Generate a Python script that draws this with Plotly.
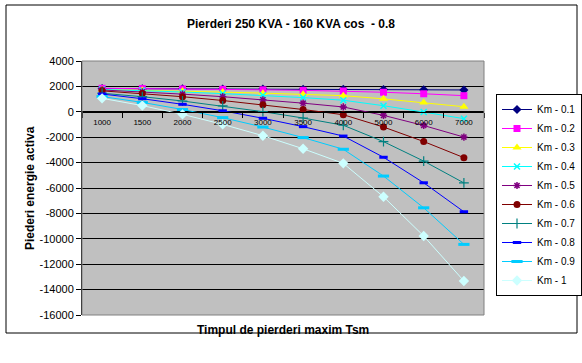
import plotly.graph_objects as go

categories = ["1000", "1500", "2000", "2500", "3000", "3500", "4000", "5000", "6000", "7000"]

km_01 = [1830, 1820, 1810, 1800, 1790, 1780, 1770, 1760, 1740, 1720]
km_02 = [1850, 1830, 1800, 1770, 1730, 1690, 1640, 1540, 1420, 1270]
km_03 = [1750, 1700, 1630, 1550, 1470, 1380, 1270, 1020, 730, 400]
km_04 = [1760, 1670, 1560, 1430, 1300, 1120, 910, 480, -20, -540]
km_05 = [1720, 1570, 1390, 1190, 950, 680, 380, -280, -1080, -1990]
km_06 = [1650, 1440, 1190, 890, 560, 180, -230, -1200, -2340, -3610]
km_07 = [1460, 1190, 850, 460, 10, -490, -1060, -2350, -3880, -5600]
km_08 = [1400, 1030, 590, 80, -510, -1170, -1910, -3580, -5590, -7870]
km_09 = [1200, 740, 180, -460, -1200, -2030, -2950, -5060, -7560, -10440]
km_10 = [1060, 490, -200, -990, -1880, -2910, -4060, -6690, -9780, -13320]

series_names = ["Km - 0.1", "Km - 0.2", "Km - 0.3", "Km - 0.4", "Km - 0.5",
                "Km - 0.6", "Km - 0.7", "Km - 0.8", "Km - 0.9", "Km - 1"]
series_values = [km_01, km_02, km_03, km_04, km_05, km_06, km_07, km_08, km_09, km_10]

y_tick_vals = [4000, 2000, 0, -2000, -4000, -6000, -8000, -10000, -12000, -14000, -16000]
y_tick_text = ["4000", "2000", "0", "-2000", "-4000", "-6000", "-8000", "-10000", "-12000", "-14000", "-16000"]

colors = ["#000080", "#FF00FF", "#FFFF00", "#00FFFF", "#800080",
          "#800000", "#008080", "#0000FF", "#00CCFF", "#CCFFFF"]
markers = [
    dict(symbol="diamond", size=7),
    dict(symbol="square", size=7),
    dict(symbol="triangle-up", size=8),
    dict(symbol="x-thin-open", size=6, line=dict(width=1.5)),
    dict(symbol="asterisk-open", size=6, line=dict(width=1.5)),
    dict(symbol="circle", size=7),
    dict(symbol="cross-thin-open", size=7, line=dict(width=1.2)),
    dict(symbol="line-ew-open", size=6, line=dict(width=3)),
    dict(symbol="line-ew-open", size=8, line=dict(width=3)),
    dict(symbol="diamond", size=8),
]

fig = go.Figure()
for name, vals, c, m in zip(series_names, series_values, colors, markers):
    mk = dict(m)
    mk["color"] = c
    if "line" in mk:
        mk["line"] = dict(mk["line"], color=c)
    else:
        mk["line"] = dict(width=0)
    fig.add_trace(go.Scatter(x=categories, y=vals, name=name, mode="lines+markers",
                             line=dict(color=c, width=1), marker=mk))

L, R, T, B = 82, 98, 61, 48
W, H = 582, 363
pw, ph = W - L - R, H - T - B

def px_x(x):
    return (x - L) / pw

def px_y(y):
    return (H - B - y) / ph

fig.update_layout(
    width=W, height=H,
    margin=dict(l=L, r=R, t=T, b=B, pad=0, autoexpand=False),
    paper_bgcolor="white",
    plot_bgcolor="#C0C0C0",
    font=dict(family="Liberation Sans, Arial, sans-serif", color="black", size=11),
    title=dict(text="<b>Pierderi 250 KVA - 160 KVA cos  - 0.8</b>", x=0.5, xanchor="center",
               y=1 - 24 / H, yanchor="middle", font=dict(size=12)),
    showlegend=True,
    legend=dict(x=px_x(496), y=px_y(94), xanchor="left", yanchor="top",
                bordercolor="black", borderwidth=1, bgcolor="white",
                font=dict(size=10), tracegroupgap=0, itemwidth=30),
    xaxis=dict(type="category", anchor="free", position=0.8, showline=True,
               linecolor="black", linewidth=1, ticks="outside", ticklen=5,
               tickson="boundaries", tickcolor="black", showgrid=False,
               tickfont=dict(size=8), range=[-0.5, 9.5], automargin=False,
               ticklabelstandoff=3, title=dict(text="")),
    yaxis=dict(range=[-16000, 4000], tickvals=y_tick_vals, ticktext=y_tick_text,
               showline=True, linecolor="black", ticks="outside", ticklen=5,
               tickcolor="black", showgrid=True, gridcolor="black", gridwidth=1,
               zeroline=True, zerolinecolor="black", zerolinewidth=1,
               tickfont=dict(size=11), automargin=False,
               title=dict(text="")),
    shapes=[
        dict(type="rect", xref="paper", yref="paper", x0=0, x1=1, y0=0, y1=1,
             line=dict(color="#808080", width=1)),
        dict(type="rect", xref="paper", yref="paper", x0=px_x(6), x1=px_x(577),
             y0=px_y(333), y1=px_y(5), line=dict(color="black", width=1)),
    ],
    annotations=[
        dict(text="<b>Timpul de pierderi maxim Tsm</b>", xref="paper", yref="paper",
             x=0.5, y=px_y(330), xanchor="center", yanchor="middle", showarrow=False,
             font=dict(size=12)),
        dict(text="<b>Piederi energie activa</b>", xref="paper", yref="paper",
             x=px_x(30), y=px_y(188), xanchor="center", yanchor="middle", showarrow=False,
             textangle=-90, font=dict(size=12)),
    ],
)

fig.write_html("out.html", config={"displayModeBar": False},
               post_script="document.body.style.margin='0px';document.body.style.padding='0px';")
